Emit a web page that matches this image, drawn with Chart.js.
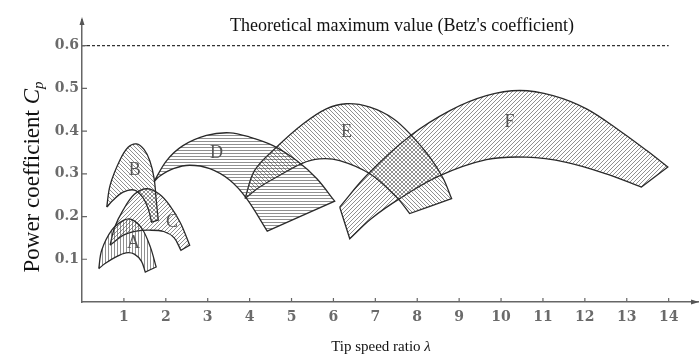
<!DOCTYPE html>
<html><head><meta charset="utf-8">
<script src="https://cdn.jsdelivr.net/npm/chart.js@4"></script>
<style>html,body{margin:0;padding:0;background:#fff}#wrap{width:699px;height:358px;position:relative}</style>
</head><body><div id="wrap"><canvas id="c"></canvas></div>
<script>
// ---- data ----
const xTicks = [1,2,3,4,5,6,7,8,9,10,11,12,13,14];
const yTicks = [0.1,0.2,0.3,0.4,0.5,0.6];
const betzX = [0, 14];
const betzY = [0.6, 0.6];

// each region: upper (outer) arc and lower (inner) arc, listed left -> right, [lambda, Cp]
const A_outer = [[0.40,0.078],[0.47,0.121],[0.71,0.168],[0.99,0.191],[1.19,0.193],[1.43,0.172],[1.63,0.129],[1.77,0.082]];
const A_inner = [[0.40,0.078],[0.55,0.090],[0.80,0.105],[1.05,0.115],[1.25,0.112],[1.42,0.095],[1.51,0.070]];
const B_outer = [[0.59,0.222],[0.67,0.273],[0.90,0.331],[1.10,0.362],[1.30,0.370],[1.48,0.357],[1.62,0.330],[1.72,0.290],[1.77,0.240],[1.82,0.192]];
const B_inner = [[0.59,0.222],[0.74,0.238],[0.98,0.257],[1.25,0.262],[1.45,0.245],[1.58,0.218],[1.66,0.187]];
const C_outer = [[0.67,0.133],[0.78,0.175],[0.98,0.215],[1.25,0.252],[1.55,0.265],[1.85,0.252],[2.10,0.225],[2.35,0.185],[2.57,0.133]];
const C_inner = [[0.67,0.133],[1.00,0.157],[1.30,0.166],[1.60,0.168],[1.95,0.165],[2.20,0.150],[2.36,0.121]];
const D_outer = [[1.72,0.282],[2.02,0.331],[2.41,0.366],[2.97,0.390],[3.53,0.396],[4.00,0.386],[4.56,0.366],[5.12,0.331],[5.60,0.289],[6.03,0.236]];
const D_inner = [[1.72,0.282],[1.86,0.295],[2.18,0.312],[2.57,0.320],[3.05,0.312],[3.53,0.285],[3.93,0.242],[4.42,0.166]];
const E_outer = [[3.89,0.242],[4.12,0.308],[4.64,0.362],[5.28,0.417],[5.83,0.452],[6.31,0.464],[6.87,0.456],[7.43,0.429],[7.86,0.390],[8.30,0.339],[8.62,0.289],[8.82,0.242]];
const E_inner = [[3.89,0.242],[4.24,0.269],[4.64,0.292],[5.24,0.324],[5.67,0.335],[6.15,0.331],[6.87,0.300],[7.50,0.246],[7.82,0.207]];
const F_outer = [[6.15,0.222],[6.79,0.296],[7.82,0.388],[8.78,0.448],[9.65,0.483],[10.45,0.495],[11.24,0.483],[12.04,0.452],[12.83,0.401],[13.47,0.355],[13.98,0.316]];
const F_inner = [[6.39,0.148],[6.90,0.195],[7.58,0.242],[8.50,0.294],[9.65,0.333],[10.60,0.339],[11.56,0.327],[12.51,0.300],[13.35,0.269]];

const regionNames = ['A','B','C','D','E','F'];
const regionOuter = [A_outer,B_outer,C_outer,D_outer,E_outer,F_outer];
const regionInner = [A_inner,B_inner,C_inner,D_inner,E_inner,F_inner];
const regionHatch = ['v','\\','/','h','\\','/'];
const labelX = [1.23,1.26,2.15,3.21,6.31,10.2];
const labelY = [0.137,0.308,0.186,0.347,0.397,0.421];

// ---- helpers ----
function makePattern(kind){
  const s = (kind==='h'||kind==='v') ? 3 : 4;
  const c = document.createElement('canvas'); c.width = s; c.height = s;
  const g = c.getContext('2d');
  g.strokeStyle = 'rgba(70,70,70,0.6)'; g.lineWidth = 1;
  g.beginPath();
  if (kind==='h'){ g.moveTo(0,0.5); g.lineTo(s,0.5); }
  else if (kind==='v'){ g.moveTo(0.5,0); g.lineTo(0.5,s); }
  else if (kind==='/'){ g.moveTo(0,s); g.lineTo(s,0); g.moveTo(-1,1); g.lineTo(1,-1); g.moveTo(s-1,s+1); g.lineTo(s+1,s-1); }
  else { g.moveTo(0,0); g.lineTo(s,s); g.moveTo(-1,s-1); g.lineTo(1,s+1); g.moveTo(s-1,-1); g.lineTo(s+1,1); }
  g.stroke();
  return g.createPattern(c,'repeat');
}
function polygon(outer, inner){
  const pts = [];
  const add = p => pts.push({x:p[0], y:p[1]});
  add(outer[0]); outer.forEach(add); add(outer[outer.length-1]);
  const inn = inner.slice().reverse();
  add(inn[0]); inn.forEach(add); add(inn[inn.length-1]);
  add(outer[0]); add(outer[0]);
  return pts;
}

const datasets = regionNames.map((n,i)=>({
  label: n,
  data: polygon(regionOuter[i], regionInner[i]),
  showLine: true,
  fill: 'shape',
  backgroundColor: makePattern(regionHatch[i]),
  borderColor: '#2a2a2a',
  borderWidth: 1.3,
  tension: 0.35,
  pointRadius: 0
}));
datasets.push({
  label: 'Betz',
  data: betzX.map((x,i)=>({x, y: betzY[i]})),
  showLine: true, fill: false,
  borderColor: '#333', borderWidth: 1.2, borderDash: [3,2],
  pointRadius: 0, tension: 0
});

const SERIF = '"Liberation Serif", "Times New Roman", serif';
const deco = {
  id: 'deco',
  afterDatasetsDraw(chart){
    const ctx = chart.ctx;
    const xs = chart.scales.x, ys = chart.scales.y;
    const {left, right, top, bottom} = chart.chartArea;
    ctx.save();
    // inner tick marks
    ctx.strokeStyle = '#666'; ctx.lineWidth = 1.2;
    ctx.beginPath();
    xTicks.forEach(v=>{ const p = xs.getPixelForValue(v); ctx.moveTo(p, bottom); ctx.lineTo(p, bottom-4); });
    yTicks.forEach(v=>{ const p = ys.getPixelForValue(v); ctx.moveTo(left, p); ctx.lineTo(left+5, p); });
    ctx.stroke();
    // arrows
    ctx.fillStyle = '#555';
    ctx.beginPath(); ctx.moveTo(left, top-3); ctx.lineTo(left-2.5, top+5); ctx.lineTo(left+2.5, top+5); ctx.closePath(); ctx.fill();
    ctx.beginPath(); ctx.moveTo(right+1, bottom); ctx.lineTo(right-7, bottom-2.5); ctx.lineTo(right-7, bottom+2.5); ctx.closePath(); ctx.fill();
    // region labels
    ctx.fillStyle = '#555'; ctx.font = '18px ' + SERIF; ctx.textAlign = 'center'; ctx.textBaseline = 'middle';
    regionNames.forEach((n,i)=>{ ctx.fillText(n, xs.getPixelForValue(labelX[i]), ys.getPixelForValue(labelY[i])); });
    // Betz caption
    ctx.fillStyle = '#111'; ctx.font = '18px ' + SERIF; ctx.textBaseline = 'alphabetic';
    ctx.fillText("Theoretical maximum value (Betz's coefficient)", 402, 31);
    // x title
    ctx.textAlign = 'left';
    ctx.font = '15px ' + SERIF;
    const t1 = 'Tip speed ratio ';
    const w1 = ctx.measureText(t1).width;
    ctx.font = 'italic 15px ' + SERIF;
    const w2 = ctx.measureText('λ').width;
    let x0 = 381 - (w1 + w2)/2;
    ctx.font = '15px ' + SERIF; ctx.fillText(t1, x0, 351);
    ctx.font = 'italic 15px ' + SERIF; ctx.fillText('λ', x0 + w1, 351);
    // y title (rotated)
    ctx.translate(39, 177);
    ctx.rotate(-Math.PI/2);
    ctx.font = '23px ' + SERIF;
    const s1 = 'Power coefficient ';
    const a = ctx.measureText(s1).width;
    ctx.font = 'italic 23px ' + SERIF;
    const b = ctx.measureText('C').width;
    ctx.font = 'italic 15px ' + SERIF;
    const c = ctx.measureText('p').width;
    let y0 = -(a + b + c)/2;
    ctx.font = '23px ' + SERIF; ctx.fillText(s1, y0, 0);
    ctx.font = 'italic 23px ' + SERIF; ctx.fillText('C', y0 + a, 0);
    ctx.font = 'italic 15px ' + SERIF; ctx.fillText('p', y0 + a + b, 4);
    ctx.restore();
  }
};

const tickFont = {family: '"DejaVu Serif", serif', size: 14, weight: 'bold'};
new Chart(document.getElementById('c'), {
  type: 'scatter',
  data: {datasets},
  options: {
    responsive: true, maintainAspectRatio: false, animation: false, events: [],
    layout: {padding: {top: 20, right: 1, left: 0, bottom: 0}},
    plugins: {legend: {display: false}, tooltip: {enabled: false}, title: {display: false}},
    scales: {
      x: {
        type: 'linear', min: 0, max: 14.7,
        grid: {display: false, drawTicks: false},
        border: {display: true, color: '#666', width: 1.5},
        ticks: {stepSize: 1, includeBounds: false, autoSkip: false, maxRotation: 0, padding: 7,
          color: '#6a6a6a', font: tickFont,
          callback: v => xTicks.includes(v) ? String(v) : ''},
        afterFit: s => { s.height = 56; }
      },
      y: {
        type: 'linear', min: 0, max: 0.66,
        grid: {display: false, drawTicks: false},
        border: {display: true, color: '#666', width: 1.5},
        ticks: {stepSize: 0.1, includeBounds: false, autoSkip: false, padding: 3,
          color: '#6a6a6a', font: tickFont,
          callback: v => yTicks.some(t => Math.abs(t - v) < 1e-6) ? v.toFixed(1) : ''},
        afterFit: s => { s.width = 82; }
      }
    }
  },
  plugins: [deco]
});
</script></body></html>
